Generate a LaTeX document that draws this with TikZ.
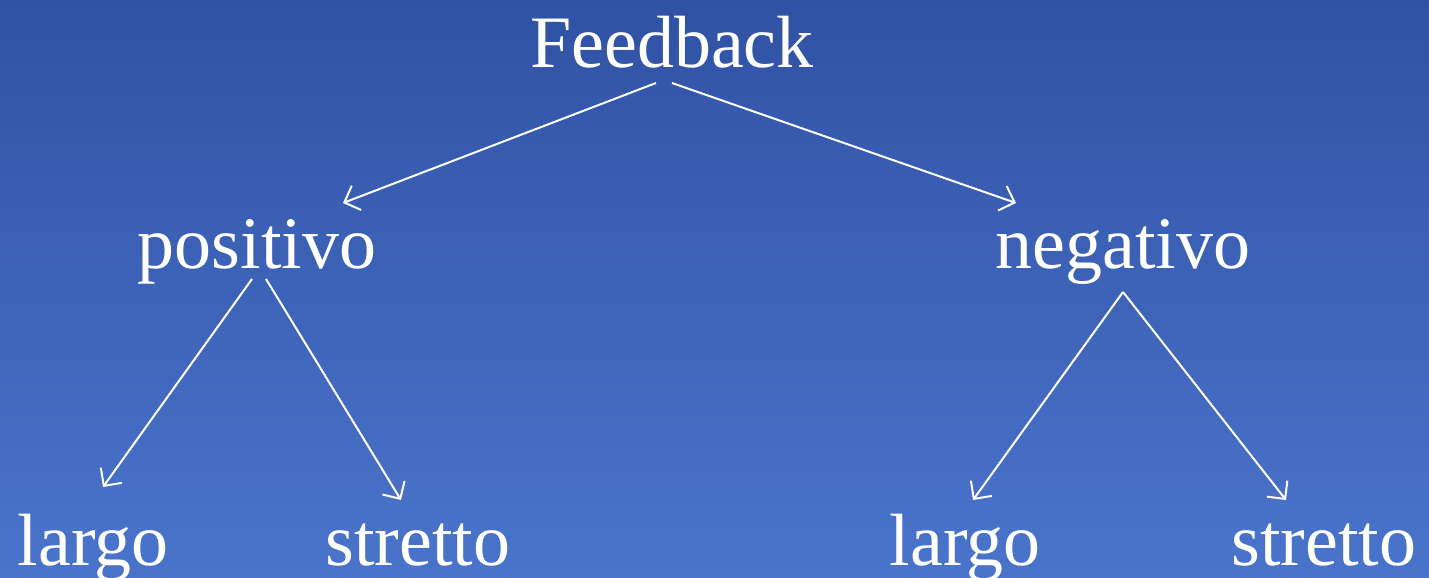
\documentclass[tikz,border=0pt]{standalone}
\usepackage{fontspec}
\setmainfont{Liberation Serif}
\usetikzlibrary{arrows.meta}

\definecolor{bgtop}{RGB}{48,82,165}
\definecolor{bgbot}{RGB}{74,116,203}

\begin{document}
\begin{tikzpicture}[
        x=1pt,y=-1pt,
        lbl/.style={text=white,font=\fontsize{74}{74}\selectfont,inner sep=0pt,anchor=base},
        arr/.style={draw=white,line width=2pt,-{Straight Barb[length=13pt,width=26pt,line width=2pt]}}
    ]
    % background
    \fill[top color=bgtop,bottom color=bgbot] (0,0) rectangle (1429,578);
    \useasboundingbox (0,0) rectangle (1429,578);
    % words
    \node[lbl] (fb) at (672,67) {Feedback};
    \node[lbl] (pos) at (257,268) {positivo};
    \node[lbl] (neg) at (1123,268) {negativo};
    \node[lbl] (pl) at (93,565) {largo};
    \node[lbl] (ps) at (418,565) {stretto};
    \node[lbl] (nl) at (965,565) {largo};
    \node[lbl] (ns) at (1324,565) {stretto};
    % arrows
    \draw[arr] ([shift={(-16,16)}]fb.base) -- ([shift={(86,-65)}]pos.base);
    \draw[arr] ([shift={(0,16)}]fb.base) -- ([shift={(-107,-65)}]neg.base);
    \draw[arr] ([shift={(-5,11)}]pos.base) -- ([shift={(10,-78)}]pl.base);
    \draw[arr] ([shift={(9,11)}]pos.base) -- ([shift={(-17,-65)}]ps.base);
    \draw[arr] ([shift={(0,24)}]neg.base) -- ([shift={(8,-65)}]nl.base);
    \draw[arr] ([shift={(0,24)}]neg.base) -- ([shift={(-38,-65)}]ns.base);
\end{tikzpicture}
\end{document}
